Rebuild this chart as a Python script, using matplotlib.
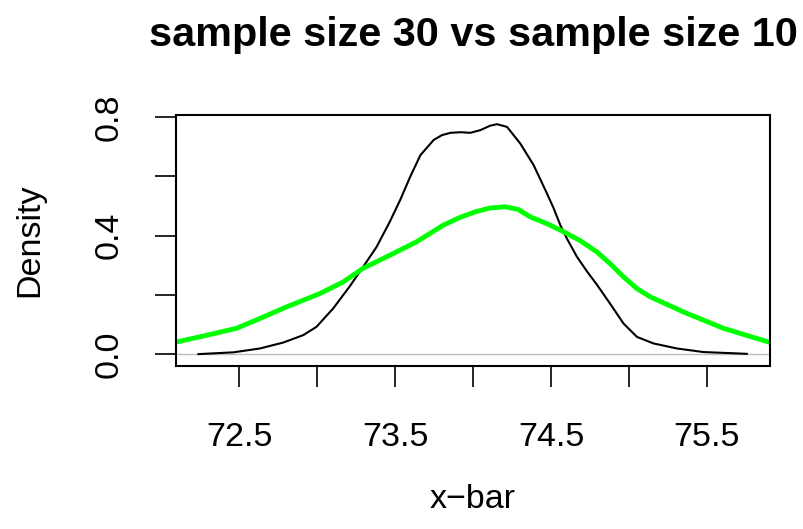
import numpy as np
import matplotlib
matplotlib.use("Agg")
import matplotlib.pyplot as plt

plt.rcParams['font.family'] = ['Liberation Sans', 'DejaVu Sans']

# density of x-bar, sample size 30 (black)
x30 = [72.240, 72.464, 72.634, 72.784, 72.912, 72.997, 73.104, 73.211, 73.296,
       73.382, 73.467, 73.535, 73.599, 73.663, 73.748, 73.800, 73.855, 73.920,
       73.983, 74.047, 74.110, 74.154, 74.218, 74.303, 74.389, 74.474, 74.517,
       74.560, 74.602, 74.666, 74.730, 74.794, 74.880, 74.965, 75.051, 75.157,
       75.307, 75.477, 75.755]
y30 = [0.001, 0.007, 0.020, 0.040, 0.065, 0.093, 0.155, 0.230, 0.295,
       0.362, 0.447, 0.522, 0.600, 0.671, 0.722, 0.738, 0.746, 0.748,
       0.746, 0.755, 0.770, 0.775, 0.766, 0.710, 0.637, 0.542, 0.492,
       0.435, 0.390, 0.329, 0.280, 0.235, 0.170, 0.104, 0.059, 0.037,
       0.020, 0.008, 0.002]

# density of x-bar, sample size 10 (green)
x10 = [72.101, 72.272, 72.485, 72.634, 72.805, 73.019, 73.168, 73.296, 73.467,
       73.638, 73.809, 73.920, 74.015, 74.110, 74.207, 74.290, 74.367, 74.475,
       74.581, 74.690, 74.794, 74.880, 74.965, 75.050, 75.136, 75.349, 75.605,
       75.893]
y10 = [0.042, 0.062, 0.088, 0.121, 0.160, 0.205, 0.244, 0.290, 0.334,
       0.379, 0.435, 0.462, 0.480, 0.493, 0.497, 0.488, 0.463, 0.440,
       0.413, 0.382, 0.345, 0.305, 0.261, 0.222, 0.194, 0.143, 0.088,
       0.042]

xticks = [72.5, 73.0, 73.5, 74.0, 74.5, 75.0, 75.5]
xticklabels = ["72.5", "", "73.5", "", "74.5", "", "75.5"]
yticks = [0.0, 0.2, 0.4, 0.6, 0.8]
yticklabels = ["0.0", "", "0.4", "", "0.8"]

fig = plt.figure(figsize=(8.04, 5.29), dpi=100)
ax = fig.add_axes([176/804, 1 - 366/529, 594/804, 251/529])

ax.axhline(0, color="#BEBEBE", lw=1)
ax.plot(x30, y30, color="black", lw=1.5, solid_joinstyle="round")
ax.plot(x10, y10, color="#00FF00", lw=3.5, solid_joinstyle="round")

ax.set_xlim(72.096, 75.904)
ax.set_ylim(-0.039, 0.806)

ax.set_xticks(xticks)
ax.set_xticklabels(xticklabels)
ax.set_yticks(yticks)
ax.set_yticklabels(yticklabels, rotation=90, va="center")
ax.tick_params(length=15, width=1.2, labelsize=24.5)
ax.tick_params(axis="x", pad=25)
ax.tick_params(axis="y", pad=22)
for s in ax.spines.values():
    s.set_linewidth(1.5)

fig.text(473/804, 1 - 35/529, "sample size 30 vs sample size 10",
         ha="center", va="center", fontsize=29.8, fontweight="bold")
fig.text(473/804, 1 - 500/529, "x\u2212bar", ha="center", va="center", fontsize=24.5)
fig.text(30/804, 1 - 240/529, "Density", ha="center", va="center",
         rotation=90, fontsize=24.5)

fig.savefig("out.png", dpi=100)
